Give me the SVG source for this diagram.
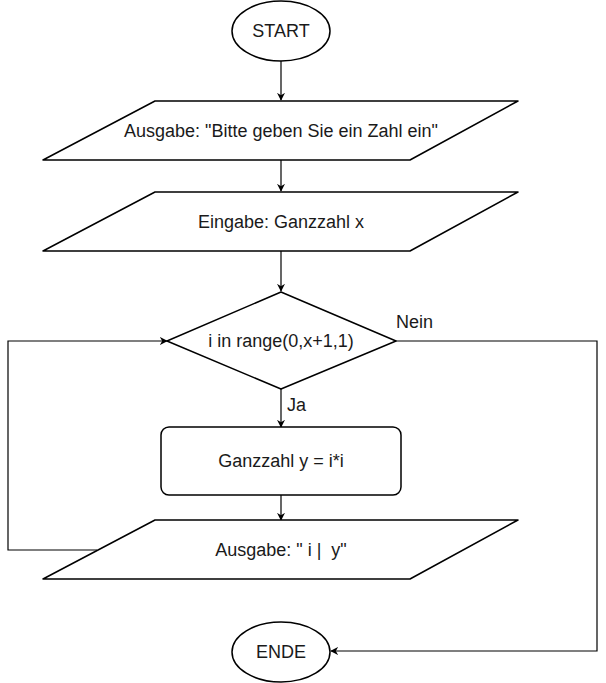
<svg xmlns="http://www.w3.org/2000/svg" width="606" height="683" viewBox="0 0 606 683">
<defs>
<marker id="arr" viewBox="0 0 10 10" refX="9" refY="5" markerWidth="8" markerHeight="8" markerUnits="userSpaceOnUse" orient="auto">
<path d="M0,0 L10,5 L0,10 L3,5 Z" fill="#000"/>
</marker>
</defs>
<style>
.shape{fill:#fff;stroke:#000;stroke-width:1.5;stroke-linejoin:round}
.conn{fill:none;stroke:#000;stroke-width:1.2}
text{font-family:"Liberation Sans",Arial,sans-serif;font-size:18px;fill:#1a1a1a}
.c{text-anchor:middle}
</style>
<rect width="606" height="683" fill="#fff"/>
<g id="connectors">
<path class="conn" d="M281,61 V100" marker-end="url(#arr)"/>
<path class="conn" d="M281,160 V191" marker-end="url(#arr)"/>
<path class="conn" d="M281,251 V291" marker-end="url(#arr)"/>
<path class="conn" d="M281,389 V427" marker-end="url(#arr)"/>
<path class="conn" d="M281,495 V520" marker-end="url(#arr)"/>
<path class="conn" d="M97,550 H8 V341 H167" marker-end="url(#arr)"/>
<path class="conn" d="M396,341 H597 V651 H331" marker-end="url(#arr)"/>
<text x="396" y="328">Nein</text>
<text x="287" y="411">Ja</text>
</g>
<g id="start">
<ellipse class="shape" cx="281" cy="31" rx="49" ry="30"/>
<text class="c" x="281" y="37">START</text>
</g>
<g id="ausgabe1">
<path class="shape" d="M155,101 H518 L410,160 H43 Z"/>
<text class="c" x="281" y="137">Ausgabe: "Bitte geben Sie ein Zahl ein"</text>
</g>
<g id="eingabe">
<path class="shape" d="M155,192 H518 L410,251 H43 Z"/>
<text class="c" x="281" y="228">Eingabe: Ganzzahl x</text>
</g>
<g id="decision">
<path class="shape" d="M281,292 L396,341 L281,389 L167,341 Z"/>
<text class="c" x="281" y="347">i in range(0,x+1,1)</text>
</g>
<g id="calc">
<rect class="shape" x="161" y="427" width="240" height="68" rx="8"/>
<text class="c" x="281" y="467">Ganzzahl y = i*i</text>
</g>
<g id="ausgabe2">
<path class="shape" d="M155,520 H518 L410,579 H43 Z"/>
<text class="c" x="281" y="556" xml:space="preserve">Ausgabe: " i |  y"</text>
</g>
<g id="ende">
<ellipse class="shape" cx="281" cy="652" rx="49" ry="30"/>
<text class="c" x="281" y="658">ENDE</text>
</g>
</svg>
